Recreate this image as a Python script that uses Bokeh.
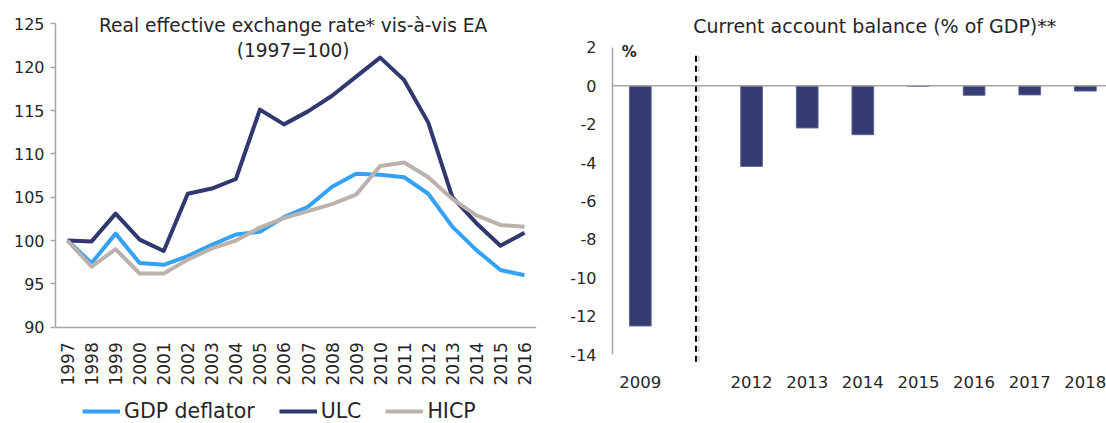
import math
from bokeh.plotting import figure
from bokeh.layouts import row
from bokeh.models import Range1d, FixedTicker, Label, Legend, LegendItem, Span
from bokeh.embed import file_html
from bokeh.resources import INLINE

# ---------------- data ----------------
years = [1997, 1998, 1999, 2000, 2001, 2002, 2003, 2004, 2005, 2006,
         2007, 2008, 2009, 2010, 2011, 2012, 2013, 2014, 2015, 2016]
gdp_deflator = [100.0, 97.4, 100.8, 97.4, 97.2, 98.2, 99.5, 100.7, 101.0, 102.7,
                103.9, 106.2, 107.7, 107.6, 107.3, 105.4, 101.6, 98.9, 96.6, 96.0]
ulc = [100.0, 99.9, 103.1, 100.1, 98.8, 105.4, 106.0, 107.1, 115.1, 113.4,
       114.9, 116.7, 118.9, 121.1, 118.5, 113.6, 105.0, 102.0, 99.4, 100.9]
hicp = [100.0, 97.0, 99.0, 96.2, 96.2, 97.8, 99.1, 100.0, 101.5, 102.6,
        103.4, 104.2, 105.3, 108.6, 109.0, 107.3, 104.8, 102.9, 101.8, 101.6]
left_yticks = [90, 95, 100, 105, 110, 115, 120, 125]

ca_categories = ["2009", "", "2012", "2013", "2014", "2015", "2016", "2017", "2018"]
ca_values = [-12.5, None, -4.2, -2.2, -2.55, -0.03, -0.5, -0.48, -0.28]
right_yticks = [-14, -12, -10, -8, -6, -4, -2, 0, 2]

FONT = "DejaVu Sans"
TXT = "#262626"
AXIS = "#A6A6A6"
C_GDP = "#34A2F4"
C_ULC = "#30386F"
C_HICP = "#BCB2AB"
C_BAR = "#353C72"

H = 423

# ---------------- left chart ----------------
L_PX = 8.67                      # pixels per index point
L_TOP = 125 + 23.3 / L_PX        # frame starts above the 125 tick (room for the title)
L_BOT = L_TOP - H / L_PX
p1 = figure(width=560, height=H, x_range=Range1d(1996.5, 2016.5), y_range=Range1d(L_BOT, L_TOP),
            output_backend="svg", toolbar_location=None,
            min_border_left=55, min_border_right=24, min_border_top=0, min_border_bottom=0)
p1.title.visible = False
p1.outline_line_color = None
p1.xgrid.visible = False
p1.ygrid.visible = False

ya = p1.yaxis[0]
ya.ticker = FixedTicker(ticks=left_yticks)
ya.bounds = (90, 125)
ya.axis_line_color = AXIS
ya.axis_line_width = 1.5
ya.major_tick_line_color = AXIS
ya.major_tick_line_width = 1.5
ya.major_tick_out = 5
ya.major_tick_in = 0
ya.minor_tick_line_color = None
ya.major_label_standoff = 6
ya.major_label_text_font = FONT
ya.major_label_text_font_size = "16px"
ya.major_label_text_color = TXT

xa = p1.xaxis[0]
xa.fixed_location = 90
xa.ticker = FixedTicker(ticks=years)
xa.major_label_overrides = {y: str(y) for y in years}
xa.major_label_orientation = math.pi / 2
xa.axis_line_color = AXIS
xa.axis_line_width = 1.5
xa.major_tick_line_color = None
xa.minor_tick_line_color = None
xa.major_label_standoff = 9
xa.major_label_text_font = FONT
xa.major_label_text_font_size = "17px"
xa.major_label_text_color = TXT

r_gdp = p1.line(years, gdp_deflator, line_color=C_GDP, line_width=4, line_join="round")
r_ulc = p1.line(years, ulc, line_color=C_ULC, line_width=4, line_join="round")
r_hicp = p1.line(years, hicp, line_color=C_HICP, line_width=4, line_join="round")

p1.add_layout(Label(x=2006.38, y=124.8, text="Real effective exchange rate* vis-à-vis EA",
                    text_align="center", text_baseline="middle", text_font=FONT,
                    text_font_size="18.6px", text_color=TXT))
p1.add_layout(Label(x=2006.38, y=121.9, text="(1997=100)",
                    text_align="center", text_baseline="middle", text_font=FONT,
                    text_font_size="18.6px", text_color=TXT))

legend = Legend(items=[LegendItem(label="GDP deflator", renderers=[r_gdp]),
                       LegendItem(label="ULC", renderers=[r_ulc]),
                       LegendItem(label="HICP", renderers=[r_hicp])],
                location=(27, 0), orientation="horizontal",
                label_text_font=FONT, label_text_font_size="20.5px", label_text_color=TXT,
                glyph_width=38, glyph_height=24, label_height=24, label_standoff=4,
                spacing=24, padding=0, margin=0,
                border_line_color=None, background_fill_alpha=0)
p1.add_layout(legend, "center")

# ---------------- right chart ----------------
R_PX = 19.225                    # pixels per percentage point
R_TOP = 2 + 46.7 / R_PX
R_BOT = R_TOP - H / R_PX
p2 = figure(width=546, height=H, x_range=Range1d(0, 8.88), y_range=Range1d(R_BOT, R_TOP),
            output_backend="svg", toolbar_location=None,
            min_border_left=52, min_border_right=0, min_border_top=0, min_border_bottom=0)
p2.title.visible = False
p2.outline_line_color = None
p2.xgrid.visible = False
p2.ygrid.visible = False

ya2 = p2.yaxis[0]
ya2.ticker = FixedTicker(ticks=right_yticks)
ya2.major_label_overrides = {t: str(t) for t in right_yticks}
ya2.bounds = (-14, 2)
ya2.axis_line_color = AXIS
ya2.axis_line_width = 1.5
ya2.major_tick_line_color = None
ya2.major_tick_out = 0
ya2.major_tick_in = 0
ya2.minor_tick_line_color = None
ya2.minor_tick_out = 0
ya2.major_label_standoff = 16
ya2.major_label_text_font = FONT
ya2.major_label_text_font_size = "16px"
ya2.major_label_text_color = TXT

xs = [i + 0.5 for i in range(len(ca_categories))]
xa2 = p2.xaxis[0]
xa2.fixed_location = -14.4
xa2.ticker = FixedTicker(ticks=[x for x, c in zip(xs, ca_categories) if c])
xa2.major_label_overrides = {x: c for x, c in zip(xs, ca_categories) if c}
xa2.axis_line_color = None
xa2.major_tick_line_color = None
xa2.minor_tick_line_color = None
xa2.major_label_standoff = 8
xa2.major_label_text_font = FONT
xa2.major_label_text_font_size = "16.5px"
xa2.major_label_text_color = TXT

p2.add_layout(Span(location=0, dimension="width", line_color=AXIS, line_width=1.5))

bx = [x for x, v in zip(xs, ca_values) if v is not None]
bv = [v for v in ca_values if v is not None]
p2.vbar(x=bx, top=bv, bottom=0, width=0.39, fill_color=C_BAR, line_color="#5C6396", line_width=1)

div_x = xs[ca_categories.index("")]
p2.segment(x0=[div_x + 0.05], y0=[1.55], x1=[div_x + 0.05], y1=[-14.4],
           line_color="#CFCFCF", line_width=3, line_dash="6 4", line_alpha=0.7)
p2.segment(x0=[div_x], y0=[1.55], x1=[div_x], y1=[-14.4],
           line_color="black", line_width=2, line_dash="6 4")

p2.add_layout(Label(x=4.714, y=3.1, text="Current account balance (% of GDP)**",
                    text_align="center", text_baseline="middle", text_font=FONT,
                    text_font_size="19px", text_color=TXT))
p2.add_layout(Label(x=0.167, y=1.74, text="%", text_align="left", text_baseline="middle",
                    text_font=FONT, text_font_size="15px", text_font_style="bold",
                    text_color=TXT))

layout = row(p1, p2)
open("out.html", "w").write(file_html(layout, INLINE))
